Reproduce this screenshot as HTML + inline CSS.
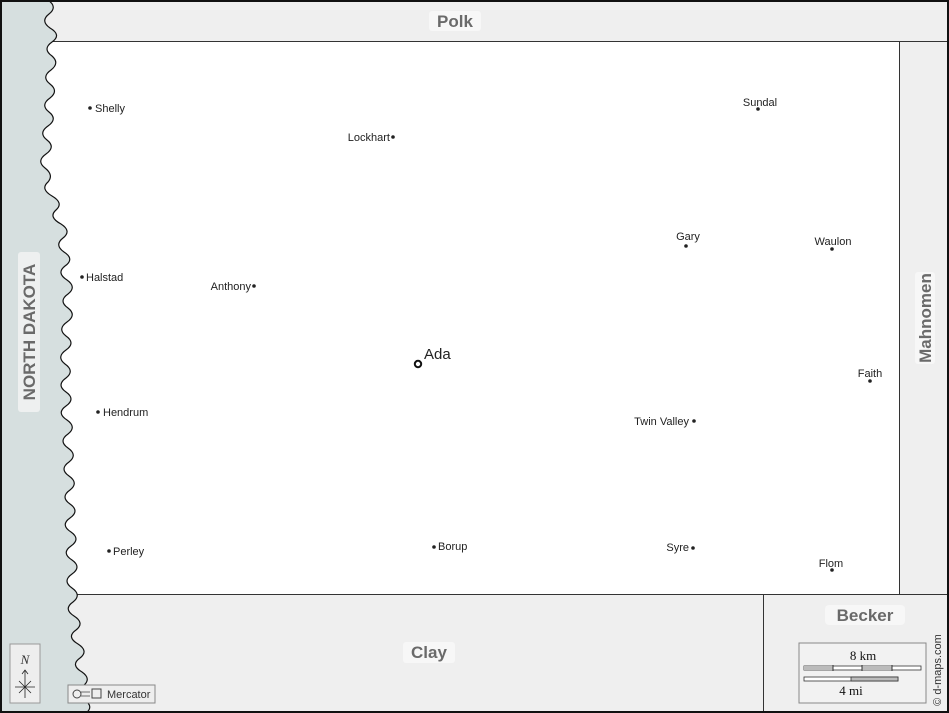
<!DOCTYPE html>
<html><head><meta charset="utf-8"><style>
html,body{margin:0;padding:0;background:#fff}
svg{display:block}
text{font-family:"Liberation Sans",sans-serif}
text.serif{font-family:"Liberation Serif",serif}
.c{font-size:11px;fill:#222}
.lab{font-size:17px;font-weight:bold;fill:#6a6a6a}
</style></head><body>
<svg width="949" height="713" viewBox="0 0 949 713" xmlns="http://www.w3.org/2000/svg">
<rect x="0" y="0" width="949" height="713" fill="#efefef"/>
<rect x="40" y="41" width="859" height="553" fill="#fff"/>
<g stroke="#333" stroke-width="1" fill="none">
<line x1="40" y1="41.5" x2="949" y2="41.5"/>
<line x1="899.5" y1="41" x2="899.5" y2="594"/>
<line x1="40" y1="594.5" x2="949" y2="594.5"/>
<line x1="763.5" y1="594" x2="763.5" y2="713"/>
</g>
<path d="M48,0 Q58,7 49,14 Q40,21 50,28 Q62,35 52,42 Q42,49 52,56 Q60,63 51,70 Q41,77 50,84 Q59,91 50,98 Q40,105 49,112 Q58,119 48,126 Q38,133 47,140 Q56,147 46,154 Q36,161 45,168 Q54,175 48,182 Q40,189 52,196 Q64,203 56,210 Q48,217 61,224 Q72,231 63,238 Q54,245 64,252 Q75,259 65,266 Q56,273 67,280 Q77,287 68,294 Q58,301 68,308 Q77,315 67,322 Q57,329 66,336 Q76,343 66,350 Q56,357 65,364 Q75,371 66,378 Q56,385 66,392 Q76,399 66,406 Q56,413 67,420 Q77,427 68,434 Q58,441 68,448 Q78,455 69,462 Q59,469 69,476 Q79,483 70,490 Q60,497 70,504 Q80,511 70,518 Q60,525 71,532 Q81,539 71,546 Q61,553 72,560 Q82,567 72,574 Q62,581 72,588 Q82,595 73,602 Q63,609 74,616 Q85,623 76,630 Q66,637 78,644 Q89,651 80,658 Q70,665 82,672 Q92,679 83,686 Q73,693 85,700 Q94,707 86,713 L0,713 L0,0 Z" fill="#d6dfdf" stroke="#111" stroke-width="1.2"/>
<rect x="1" y="1" width="947" height="711" fill="none" stroke="#111" stroke-width="2"/>

<rect x="429" y="11" width="52" height="20" rx="3" fill="#f7f7f7"/>
<text class="lab" x="455" y="27" text-anchor="middle">Polk</text>
<rect x="403" y="642" width="52" height="21" rx="3" fill="#f7f7f7"/>
<text class="lab" x="429" y="658" text-anchor="middle">Clay</text>
<rect x="825" y="605" width="80" height="20" rx="4" fill="#f7f7f7"/>
<text class="lab" x="865" y="621" text-anchor="middle">Becker</text>
<rect x="915" y="272" width="20" height="92" rx="3" fill="#f7f7f7"/>
<text class="lab" transform="translate(931,318) rotate(-90)" text-anchor="middle">Mahnomen</text>
<rect x="18" y="252" width="22" height="160" rx="3" fill="#eef0f0"/>
<text class="lab" transform="translate(35,332) rotate(-90)" text-anchor="middle">NORTH DAKOTA</text>

<g fill="#222">
<circle cx="90" cy="108" r="1.8"/><circle cx="393" cy="137" r="1.8"/><circle cx="758" cy="109" r="1.8"/>
<circle cx="686" cy="246" r="1.8"/><circle cx="832" cy="249" r="1.8"/><circle cx="82" cy="277" r="1.8"/>
<circle cx="254" cy="286" r="1.8"/><circle cx="870" cy="381" r="1.8"/><circle cx="98" cy="412" r="1.8"/>
<circle cx="694" cy="421" r="1.8"/><circle cx="109" cy="551" r="1.8"/><circle cx="434" cy="547" r="1.8"/>
<circle cx="693" cy="548" r="1.8"/><circle cx="832" cy="570" r="1.8"/>
</g>
<circle cx="418" cy="364" r="3.2" fill="#fff" stroke="#111" stroke-width="2"/>
<text x="424" y="359" font-size="15" fill="#222">Ada</text>
<text class="c" x="95" y="112">Shelly</text>
<text class="c" x="390" y="141" text-anchor="end">Lockhart</text>
<text class="c" x="760" y="106" text-anchor="middle">Sundal</text>
<text class="c" x="688" y="240" text-anchor="middle">Gary</text>
<text class="c" x="833" y="245" text-anchor="middle">Waulon</text>
<text class="c" x="86" y="281">Halstad</text>
<text class="c" x="251" y="290" text-anchor="end">Anthony</text>
<text class="c" x="870" y="377" text-anchor="middle">Faith</text>
<text class="c" x="103" y="416">Hendrum</text>
<text class="c" x="689" y="425" text-anchor="end">Twin Valley</text>
<text class="c" x="113" y="555">Perley</text>
<text class="c" x="438" y="550">Borup</text>
<text class="c" x="689" y="551" text-anchor="end">Syre</text>
<text class="c" x="831" y="567" text-anchor="middle">Flom</text>

<rect x="10" y="644" width="30" height="59" fill="#eee" stroke="#999"/>
<text class="serif" x="25" y="664" font-style="italic" font-size="13" text-anchor="middle" fill="#333">N</text>
<g stroke="#222" stroke-width="0.8" fill="none">
<line x1="25" y1="670" x2="25" y2="698"/><path d="M22,674 L25,670 L28,674"/>
<line x1="15" y1="687" x2="35" y2="687"/><line x1="19" y1="681" x2="31" y2="693"/><line x1="31" y1="681" x2="19" y2="693"/>
</g>
<rect x="68" y="685" width="87" height="18" fill="#eee" stroke="#888"/>
<circle cx="77" cy="694" r="4" fill="none" stroke="#444"/>
<path d="M81,692 L90,692 M81,696 L90,696" stroke="#444" stroke-width="0.8"/>
<rect x="92" y="689" width="9" height="9" fill="none" stroke="#444"/>
<text x="107" y="698" font-size="11" fill="#333">Mercator</text>
<rect x="799" y="643" width="127" height="60" fill="#f2f2f2" stroke="#888"/>
<text class="serif" x="863" y="660" font-size="13" text-anchor="middle" fill="#111">8 km</text>
<rect x="804" y="666" width="117" height="4" fill="#fff" stroke="#333" stroke-width="0.8"/>
<rect x="804" y="666" width="29" height="4" fill="#bbb"/><rect x="862" y="666" width="30" height="4" fill="#bbb"/>
<path d="M833,665 V671 M862,665 V671 M892,665 V671" stroke="#333"/>
<rect x="804" y="677" width="94" height="4" fill="#fff" stroke="#333" stroke-width="0.8"/>
<rect x="851" y="677" width="47" height="4" fill="#bbb" stroke="#333" stroke-width="0.8"/>
<text class="serif" x="851" y="695" font-size="13" text-anchor="middle" fill="#111">4 mi</text>
<text transform="translate(941,670) rotate(-90)" font-size="11" text-anchor="middle" fill="#333">© d-maps.com</text>
</svg>
</body></html>
